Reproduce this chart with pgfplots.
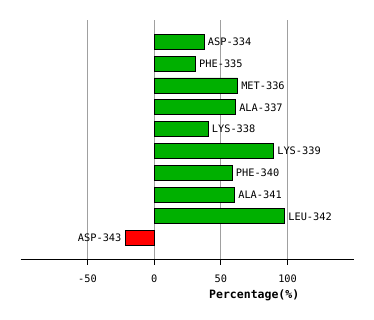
\documentclass[border=0pt]{standalone}
\usepackage{pgfplots}
\pgfplotsset{compat=1.18}
\usepackage{fontspec}
\setmainfont{DejaVu Sans Mono}
\definecolor{barg}{RGB}{0,176,0}
\definecolor{barr}{RGB}{255,0,0}
\definecolor{gridc}{RGB}{160,160,160}
\begin{document}
\begin{tikzpicture}
\useasboundingbox[fill=white] (-20.7pt,-60pt) rectangle (353.3pt,260pt);
\begin{axis}[
  at={(0,0)}, anchor=south west,
  scale only axis, width=333.6pt, height=240pt,
  xmin=-100, xmax=150, ymin=0, ymax=11,
  xbar, bar width=15pt, bar shift=0pt,
  axis y line=none, axis x line*=bottom,
  x axis line style={black, line width=1pt},
  xtick={-50,0,50,100}, ytick=\empty,
  xmajorgrids, grid style={gridc, line width=0.8pt},
  major tick length=5pt, tick align=outside,
  tick style={black, line width=0.8pt},
  /pgf/number format/assume math mode=true,
  xticklabel style={font=\fontsize{10.3}{12}\selectfont, yshift=-6pt},
  xlabel={\textbf{Percentage(\%)}},
  xlabel style={at={(axis description cs:0.70,-0.1458)}, anchor=center, font=\fontsize{11.5}{13}\selectfont},
  nodes near coords, point meta=explicit symbolic,
  every node near coord/.append style={font=\fontsize{10.3}{12}\selectfont, text=black},
]
\addplot[xbar, fill=barg, draw=black, line width=0.8pt,
  nodes near coords style={anchor=west}] table[meta=label]{
x y label
37.5 10 ASP-334
31 9 PHE-335
62.5 8 MET-336
61 7 ALA-337
40.5 6 LYS-338
89.5 5 LYS-339
58.5 4 PHE-340
60.3 3 ALA-341
97.8 2 LEU-342
};
\addplot[xbar, fill=barr, draw=black, line width=0.8pt,
  nodes near coords style={anchor=east}] table[meta=label]{
x y label
-21.75 1 ASP-343
};
\end{axis}
\end{tikzpicture}
\end{document}
